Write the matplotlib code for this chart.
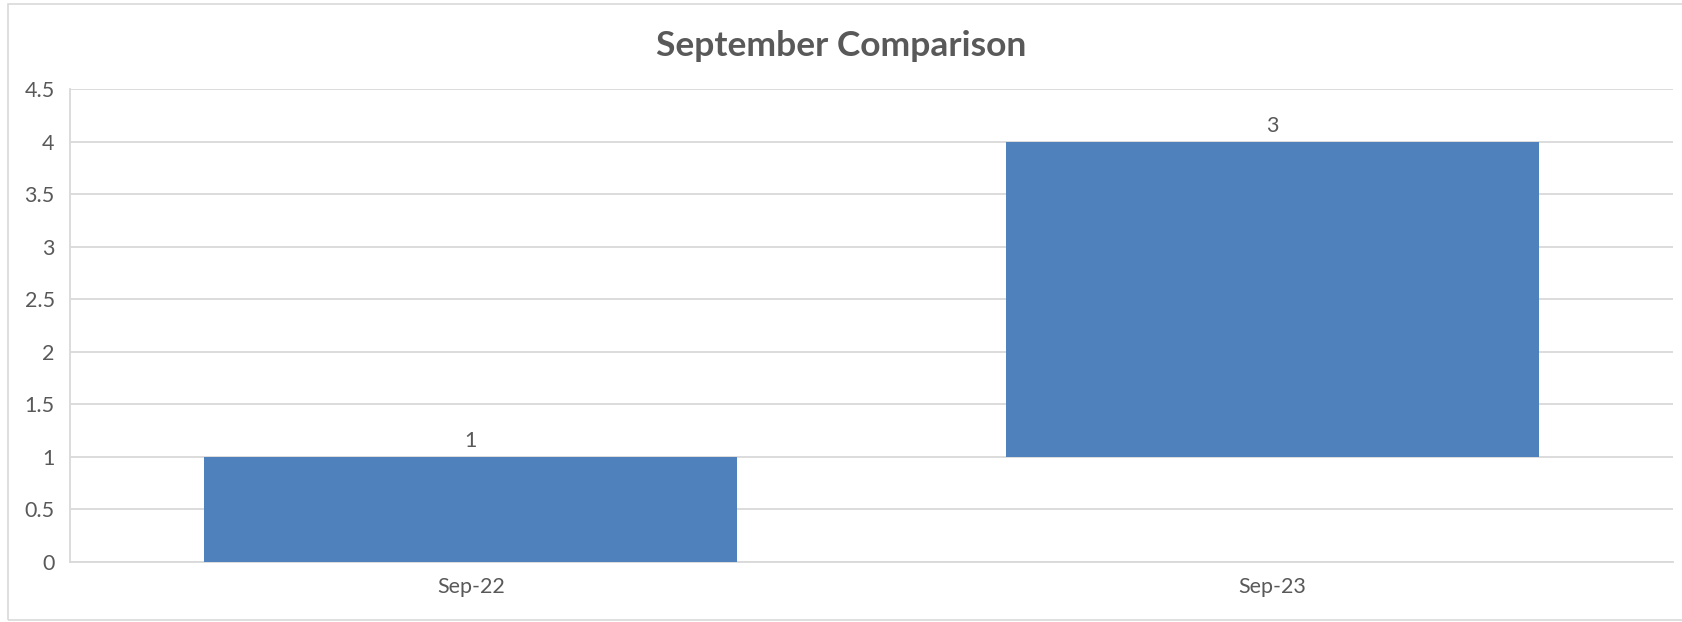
import matplotlib.pyplot as plt
import numpy as np
from matplotlib.patches import Rectangle

# data
categories = ["Sep-22", "Sep-23"]
changes = [1, 3]          # value shown on each bar
labels = ["1", "3"]

bases = np.concatenate([[0], np.cumsum(changes)[:-1]])

BLUE = "#4f81bd"
TXT = "#595959"
GRID = "#d9d9d9"

plt.rcParams["font.family"] = ["Lato", "DejaVu Sans"]

fig = plt.figure(figsize=(16.83, 6.22), dpi=100)
ax = fig.add_axes([0.0416, 0.0965, 0.9525, 0.7605])

# outer chart border (right edge runs off the image)
fig.patches.append(Rectangle((8 / 1683, 2 / 622), 1.1, 616 / 622,
                             transform=fig.transFigure, fill=False,
                             edgecolor=GRID, lw=1.2))

x = np.arange(len(categories))
ax.bar(x, changes, bottom=bases, width=0.665, color=BLUE, zorder=3)

for xi, b, c, lab in zip(x, bases, changes, labels):
    ax.annotate(lab, (xi, b + c), xytext=(0, 4), textcoords="offset points",
                ha="center", va="bottom", fontsize=15.5, color=TXT)

ax.set_xlim(-0.5, len(categories) - 0.5)
ax.set_ylim(0, 4.5)
ax.set_yticks(np.arange(0, 4.51, 0.5))
ax.set_yticklabels(["0", "0.5", "1", "1.5", "2", "2.5", "3", "3.5", "4", "4.5"])
ax.set_xticks(x)
ax.set_xticklabels(categories)
ax.tick_params(axis="both", length=0, labelsize=15.5, colors=TXT)
ax.tick_params(axis="y", pad=11)
ax.tick_params(axis="x", pad=11)

ax.grid(axis="y", color=GRID, lw=1.3, zorder=0)
for s in ["top", "right"]:
    ax.spines[s].set_visible(False)
ax.spines["left"].set_color(GRID)
ax.spines["bottom"].set_color(GRID)
ax.spines["left"].set_linewidth(1.3)
ax.spines["bottom"].set_linewidth(1.3)

fig.text(0.5, 0.926, "September Comparison", ha="center", va="center",
         fontsize=25.5, fontweight="bold", color=TXT)

fig.savefig("out.png", dpi=100)
